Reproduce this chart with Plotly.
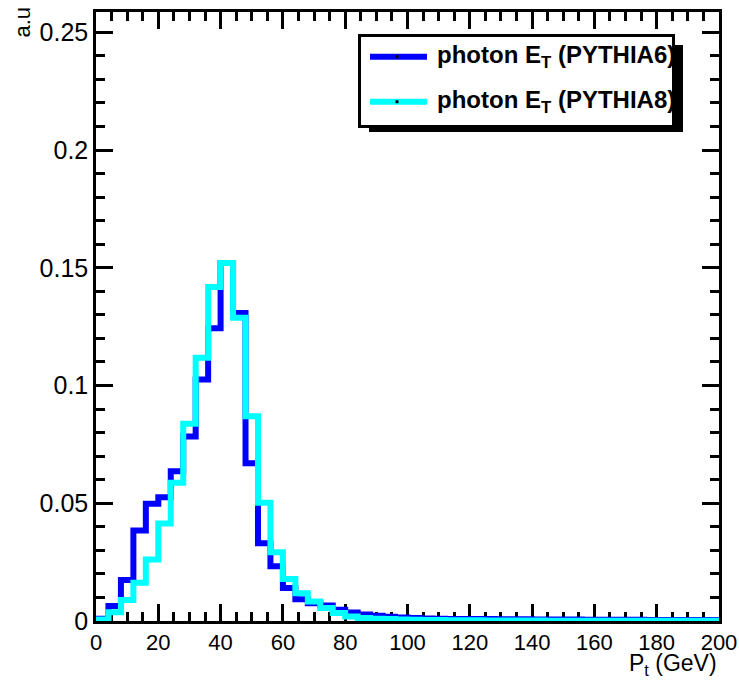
import plotly.graph_objects as go

# Photon transverse-energy spectra, 4 GeV bins from 0 to 200 GeV (arbitrary units)
bin_edges = [4 * i for i in range(51)]

pythia6 = [
    0.0010, 0.0064, 0.0174, 0.0384, 0.0498, 0.0526, 0.0636, 0.0783, 0.1025, 0.1243,
    0.1520, 0.1308, 0.0670, 0.0330, 0.0232, 0.0140, 0.0092, 0.0075, 0.0066, 0.0048,
    0.0036, 0.0028, 0.0022, 0.0018, 0.0015, 0.0013, 0.0011, 0.0010, 0.0009, 0.0009,
    0.0008, 0.0008, 0.0007, 0.0007, 0.0007, 0.0006, 0.0006, 0.0006, 0.0006, 0.0005,
    0.0005, 0.0005, 0.0005, 0.0005, 0.0004, 0.0004, 0.0004, 0.0004, 0.0004, 0.0004,
]

pythia8 = [
    0.0006, 0.0037, 0.0089, 0.0162, 0.0261, 0.0414, 0.0587, 0.0838, 0.1118, 0.1418,
    0.1520, 0.1288, 0.0869, 0.0502, 0.0292, 0.0178, 0.0118, 0.0083, 0.0055, 0.0034,
    0.0019, 0.0013, 0.0010, 0.0008, 0.0006, 0.0005, 0.0004, 0.0004, 0.0003, 0.0003,
    0.0003, 0.0002, 0.0002, 0.0002, 0.0002, 0.0002, 0.0001, 0.0001, 0.0001, 0.0001,
    0.0001, 0.0001, 0.0001, 0.0001, 0.0001, 0.0001, 0.0001, 0.0001, 0.0001, 0.0001,
]

series_names = ["photon E<sub>T</sub> (PYTHIA6)", "photon E<sub>T</sub> (PYTHIA8)"]
series_colors = ["#0000ff", "#00ffff"]

x_range = [0, 200]
y_range = [0, 0.2586]

W, H = 739, 680
ML, MR, MT, MB = 96, 20, 12, 59
PW, PH = W - ML - MR, H - MT - MB
FONT = "Liberation Sans, Arial, Helvetica, sans-serif"


def px(xpix):
    return (xpix - ML) / PW


def py(ypix):
    return (H - MB - ypix) / PH


def step_trace(values, color):
    # outline histogram: each value held across its bin
    return go.Scatter(
        x=bin_edges,
        y=list(values) + [values[-1]],
        mode="lines",
        line=dict(color=color, width=6, shape="hv"),
        showlegend=False,
        hoverinfo="skip",
    )


fig = go.Figure()
fig.add_trace(step_trace(pythia6, series_colors[0]))
fig.add_trace(step_trace(pythia8, series_colors[1]))

axis_common = dict(
    showgrid=False,
    zeroline=False,
    showline=True,
    linecolor="black",
    linewidth=2.5,
    mirror="allticks",
    ticks="inside",
    tickcolor="black",
    tickwidth=2.5,
    ticklen=17,
    layer="below traces",
    automargin=False,
)

fig.update_xaxes(
    range=x_range,
    dtick=20,
    tick0=0,
    tickfont=dict(family=FONT, size=22, color="black"),
    minor=dict(dtick=5, ticklen=9, tickwidth=2.5, tickcolor="black", ticks="inside"),
    **axis_common,
)
fig.update_yaxes(
    range=y_range,
    dtick=0.05,
    tick0=0,
    tickfont=dict(family=FONT, size=25, color="black"),
    minor=dict(dtick=0.01, ticklen=9, tickwidth=2.5, tickcolor="black", ticks="inside"),
    **axis_common,
)

shapes = []
annotations = []

# legend box with drop shadow (kept under the text)
shapes.append(dict(type="rect", xref="paper", yref="paper",
                   x0=px(369), x1=px(683), y0=py(45), y1=py(132),
                   fillcolor="black", line=dict(width=0), layer="below"))
shapes.append(dict(type="rect", xref="paper", yref="paper",
                   x0=px(359.5), x1=px(673.5), y0=py(35.5), y1=py(126.5),
                   fillcolor="white", line=dict(color="black", width=3), layer="below"))

for row_y, name, color in zip([56.7, 101.7], series_names, series_colors):
    shapes.append(dict(type="line", xref="paper", yref="paper",
                       x0=px(370), x1=px(427), y0=py(row_y), y1=py(row_y),
                       line=dict(color=color, width=6), layer="below"))
    shapes.append(dict(type="rect", xref="paper", yref="paper",
                       x0=px(395.5), x1=px(398.5), y0=py(row_y - 1.5), y1=py(row_y + 1.5),
                       fillcolor="black", line=dict(width=0), layer="below"))
    annotations.append(dict(
        xref="paper", yref="paper", x=px(435), y=py(row_y),
        xanchor="left", yanchor="middle", showarrow=False,
        text="<b>" + name + "</b>",
        font=dict(family=FONT, size=24, color="black"),
    ))

# axis titles
annotations.append(dict(
    xref="paper", yref="paper", x=px(719), y=py(664.5),
    xanchor="right", yanchor="middle", showarrow=False,
    text="P<sub>t</sub> (GeV)",
    font=dict(family=FONT, size=23, color="black"),
))
annotations.append(dict(
    xref="paper", yref="paper", x=px(22), y=py(5),
    xanchor="center", yanchor="top", showarrow=False, textangle=-90,
    text="a.u",
    font=dict(family=FONT, size=22, color="black"),
))

fig.update_layout(
    width=W,
    height=H,
    margin=dict(l=ML, r=MR, t=MT, b=MB, pad=0),
    paper_bgcolor="white",
    plot_bgcolor="white",
    shapes=shapes,
    annotations=annotations,
    showlegend=False,
)

fig.write_html("out.html")
